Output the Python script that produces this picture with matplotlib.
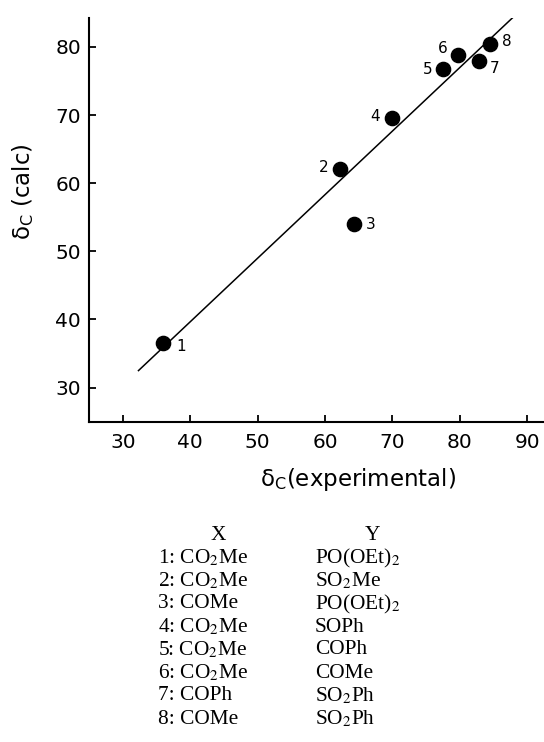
import numpy as np
import matplotlib
matplotlib.use("Agg")
import matplotlib.pyplot as plt

# data
exp_shift = [35.9, 62.2, 64.3, 69.9, 77.5, 79.8, 82.9, 84.5]
calc_shift = [36.5, 62.1, 54.0, 69.6, 76.7, 78.8, 77.9, 80.4]
point_ids = ["1", "2", "3", "4", "5", "6", "7", "8"]
# label offsets in points (dx, dy)
label_off = [(13, -2), (-12, 1), (12, 0), (-12, 1), (-11, 0), (-11, 5), (11, -5), (12, 2)]

fit_x = [32.3, 88.5]
fit_y = [32.5, 84.9]

x_ticks = [30, 40, 50, 60, 70, 80, 90]
y_ticks = [30, 40, 50, 60, 70, 80]

table_x = ["1: CO$_2$Me", "2: CO$_2$Me", "3: COMe", "4: CO$_2$Me",
           "5: CO$_2$Me", "6: CO$_2$Me", "7: COPh", "8: COMe"]
table_y = ["PO(OEt)$_2$", "SO$_2$Me", "PO(OEt)$_2$", "SOPh",
           "COPh", "COMe", "SO$_2$Ph", "SO$_2$Ph"]

W, H = 544, 742
fig = plt.figure(figsize=(W / 100, H / 100), dpi=100)
ax = fig.add_axes([89.3 / W, 1 - 421.7 / H, 1 - 89.3 / W, (421.7 - 18.3) / H])

ax.plot(fit_x, fit_y, color="black", lw=1.1)
ax.scatter(exp_shift, calc_shift, s=105, color="black", zorder=3)
for x, y, t, (dx, dy) in zip(exp_shift, calc_shift, point_ids, label_off):
    ax.annotate(t, (x, y), xytext=(dx, dy), textcoords="offset points",
                ha="center", va="center", fontsize=11, family="DejaVu Sans")

ax.set_xlim(25, 92.5)
ax.set_ylim(25, 84.2)
ax.set_xticks(x_ticks)
ax.set_yticks(y_ticks)
for s in ["top", "right"]:
    ax.spines[s].set_visible(False)
for s in ["left", "bottom"]:
    ax.spines[s].set_linewidth(1.5)
ax.tick_params(direction="in", length=5, width=1.3, labelsize=14.5, pad=6)
ax.tick_params(axis="x", pad=8)

fig.text(23 / W, 1 - 192 / H, "δ$_\\mathrm{C}$ (calc)", rotation=90, ha="center", va="center",
         fontsize=16.5, math_fontfamily="dejavusans")
fig.text(358 / W, 1 - 480 / H, "δ$_\\mathrm{C}$(experimental)", ha="center", va="center",
         fontsize=16.5, math_fontfamily="dejavusans")

# table of substituents
serif = "Liberation Serif"
fs = 15.4
fig.text(218 / W, 1 - 535 / H, "X", ha="center", va="center", fontsize=fs, family=serif)
fig.text(372 / W, 1 - 535 / H, "Y", ha="center", va="center", fontsize=fs, family=serif)
row_y0, row_dy = 558, 23
for i, (a, b) in enumerate(zip(table_x, table_y)):
    yy = 1 - (row_y0 + i * row_dy) / H
    fig.text(158 / W, yy, a, ha="left", va="center", fontsize=fs, family=serif,
             math_fontfamily="stix")
    fig.text(315 / W, yy, b, ha="left", va="center", fontsize=fs, family=serif,
             math_fontfamily="stix")

fig.savefig("out.png", dpi=100)
